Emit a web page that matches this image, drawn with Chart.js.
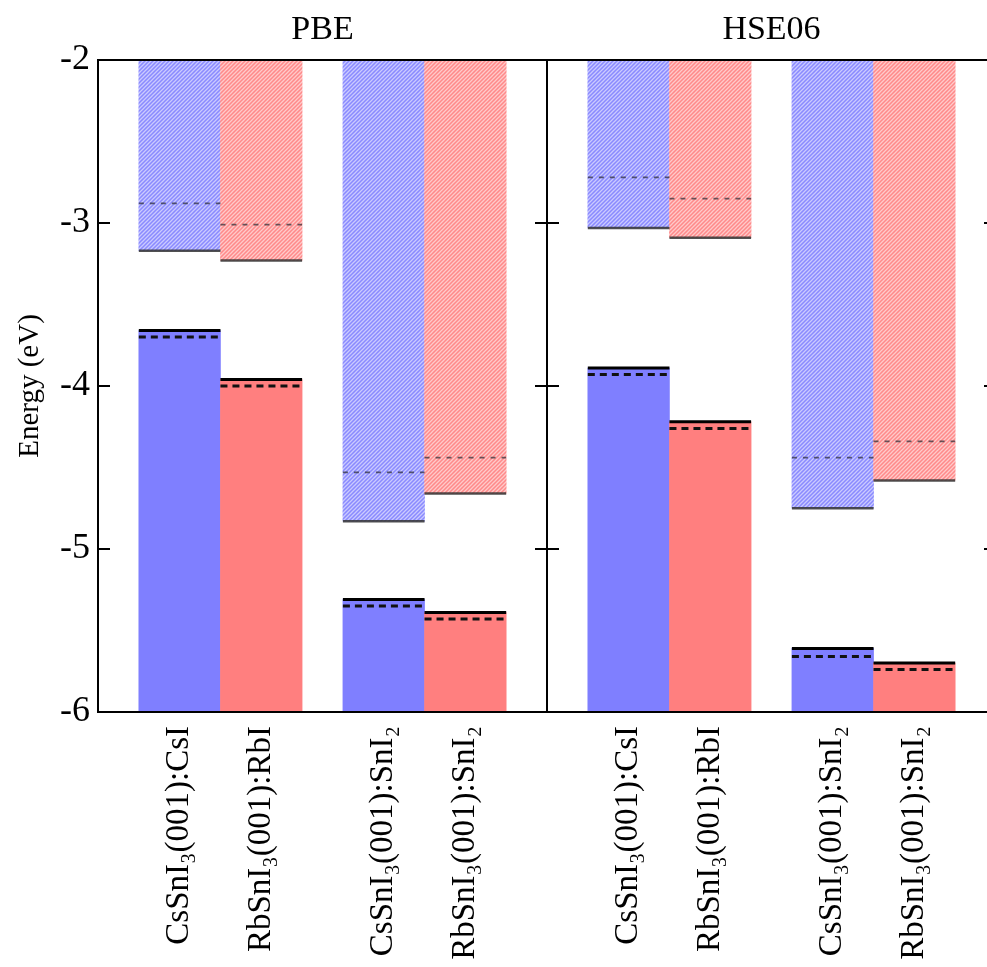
<!DOCTYPE html>
<html lang="en">
<head>
    <meta charset="UTF-8">
    <title>Band edges PBE / HSE06</title>
    <style>
        body {
            margin: 0;
            background: #fff;
            overflow: hidden;
        }
        #wrap {
            width: 1000px;
            height: 967px;
        }
    </style>
    <script src="https://cdn.jsdelivr.net/npm/chart.js"></script>
</head>
<body>
    <div id="wrap"><canvas id="bands"></canvas></div>

    <script>
        // the same four interfaces are shown in each panel
        const interfaces = ['CsSnI₃(001):CsI', 'RbSnI₃(001):RbI', 'CsSnI₃(001):SnI₂', 'RbSnI₃(001):SnI₂'];
        const panels = ['PBE', 'HSE06'];
        // bar centres on the x axis (one bar = 1 unit, one panel = 5.5 units)
        const barPos = [1, 2, 3.5, 4.5, 6.5, 7.5, 9, 10];
        const panelWidth = 5.5;

        // energies (eV), PBE bars first then HSE06
        const vbmSolid  = [-3.66, -3.96, -5.31, -5.39, -3.89, -4.22, -5.61, -5.70];
        const vbmDashed = [-3.70, -4.00, -5.35, -5.43, -3.93, -4.26, -5.66, -5.74];
        const cbmSolid  = [-3.17, -3.23, -4.83, -4.66, -3.03, -3.09, -4.75, -4.58];
        const cbmDashed = [-2.88, -3.01, -4.53, -4.44, -2.72, -2.85, -4.44, -4.34];

        const yTicks = [-6, -5, -4, -3, -2];
        const eMin = -6, eMax = -2;

        const blue = '#7f7fff', red = '#ff7f7f';
        const serif = '"Liberation Serif", "DejaVu Serif", serif';

        function hatch(base) {
            const c = document.createElement('canvas');
            c.width = 4; c.height = 4;
            const g = c.getContext('2d');
            g.fillStyle = base;
            g.fillRect(0, 0, 4, 4);
            g.strokeStyle = 'rgba(255,255,255,0.55)';
            g.lineWidth = 1.3;
            g.beginPath();
            g.moveTo(0, 4); g.lineTo(4, 0);
            g.moveTo(-1, 1); g.lineTo(1, -1);
            g.moveTo(3, 5); g.lineTo(5, 3);
            g.stroke();
            return g.createPattern(c, 'repeat');
        }
        const hatchBlue = hatch('#8a8aff');
        const hatchRed = hatch('#ff8a8a');

        // horizontal level across the width of each bar, broken between bars
        function levels(vals) {
            const pts = [];
            vals.forEach((v, i) => {
                pts.push({ x: barPos[i] - 0.5, y: v }, { x: barPos[i] + 0.5, y: v }, { x: barPos[i] + 0.5, y: null });
            });
            return pts;
        }

        const framePlugin = {
            id: 'frame',
            afterDraw(chart) {
                const { ctx, chartArea: a, scales: { x, y } } = chart;
                ctx.save();
                ctx.strokeStyle = '#000';
                ctx.lineWidth = 2;
                ctx.strokeRect(a.left, a.top, a.right - a.left, a.bottom - a.top);
                const mid = x.getPixelForValue(panelWidth);
                ctx.beginPath();
                ctx.moveTo(mid, a.top);
                ctx.lineTo(mid, a.bottom);
                yTicks.forEach(t => {
                    const py = y.getPixelForValue(t);
                    ctx.moveTo(a.left, py); ctx.lineTo(a.left + 12, py);
                    ctx.moveTo(mid - 12, py); ctx.lineTo(mid + 12, py);
                    ctx.moveTo(a.right - 12, py); ctx.lineTo(a.right, py);
                });
                ctx.stroke();

                ctx.fillStyle = '#000';
                ctx.font = '34px ' + serif;
                ctx.textAlign = 'center';
                ctx.textBaseline = 'alphabetic';
                panels.forEach((p, i) => {
                    ctx.fillText(p, x.getPixelForValue(panelWidth * (i + 0.5)), a.top - 21);
                });
                ctx.restore();
            }
        };

        const barColor = c => (c.dataIndex % 2 ? red : blue);
        const hatchColor = c => (c.dataIndex % 2 ? hatchRed : hatchBlue);

        new Chart(document.getElementById('bands'), {
            type: 'bar',
            data: {
                datasets: [
                    {
                        label: 'valence band',
                        data: barPos.map((p, i) => ({ x: p, y: [eMin, vbmSolid[i]] })),
                        backgroundColor: barColor,
                        grouped: false,
                        barPercentage: 1,
                        categoryPercentage: 1,
                        borderWidth: 0,
                        order: 2
                    },
                    {
                        label: 'conduction band',
                        data: barPos.map((p, i) => ({ x: p, y: [cbmSolid[i], eMax] })),
                        backgroundColor: hatchColor,
                        grouped: false,
                        barPercentage: 1,
                        categoryPercentage: 1,
                        borderWidth: 0,
                        order: 2
                    },
                    {
                        type: 'line',
                        label: 'VBM',
                        data: levels(vbmSolid),
                        borderColor: '#000',
                        borderWidth: 3,
                        pointRadius: 0,
                        spanGaps: false,
                        order: 1
                    },
                    {
                        type: 'line',
                        label: 'VBM (dashed)',
                        data: levels(vbmDashed),
                        borderColor: '#111',
                        borderWidth: 3,
                        borderDash: [7, 5],
                        pointRadius: 0,
                        spanGaps: false,
                        order: 1
                    },
                    {
                        type: 'line',
                        label: 'CBM',
                        data: levels(cbmSolid),
                        borderColor: 'rgba(50,50,50,0.85)',
                        borderWidth: 2.5,
                        pointRadius: 0,
                        spanGaps: false,
                        order: 1
                    },
                    {
                        type: 'line',
                        label: 'CBM (dashed)',
                        data: levels(cbmDashed),
                        borderColor: 'rgba(40,40,50,0.7)',
                        borderWidth: 1.8,
                        borderDash: [5, 6],
                        pointRadius: 0,
                        spanGaps: false,
                        order: 1
                    }
                ]
            },
            options: {
                responsive: true,
                maintainAspectRatio: false,
                animation: false,
                layout: { padding: { top: 60, right: 4, left: 0, bottom: 0 } },
                plugins: {
                    legend: { display: false },
                    tooltip: { enabled: false }
                },
                scales: {
                    x: {
                        type: 'linear',
                        min: 0,
                        max: panelWidth * 2,
                        offset: false,
                        afterBuildTicks: s => { s.ticks = barPos.map(v => ({ value: v })); },
                        grid: { display: false, drawTicks: false, offset: false },
                        border: { display: false },
                        ticks: {
                            autoSkip: false,
                            minRotation: 90,
                            maxRotation: 90,
                            padding: 14,
                            color: '#000',
                            font: { family: serif, size: 33 },
                            callback: (v, i) => interfaces[i % interfaces.length]
                        },
                        afterFit: s => { s.height = 255; }
                    },
                    y: {
                        min: eMin,
                        max: eMax,
                        afterBuildTicks: s => { s.ticks = yTicks.map(v => ({ value: v })); },
                        grid: { display: false, drawTicks: false },
                        border: { display: false },
                        ticks: {
                            padding: 8,
                            color: '#000',
                            font: { family: serif, size: 36 }
                        },
                        title: {
                            display: true,
                            text: 'Energy (eV)',
                            color: '#000',
                            font: { family: serif, size: 29 },
                            padding: { top: 13, bottom: 0 }
                        },
                        afterFit: s => { s.width = 98; }
                    }
                }
            },
            plugins: [framePlugin]
        });
    </script>
</body>
</html>
